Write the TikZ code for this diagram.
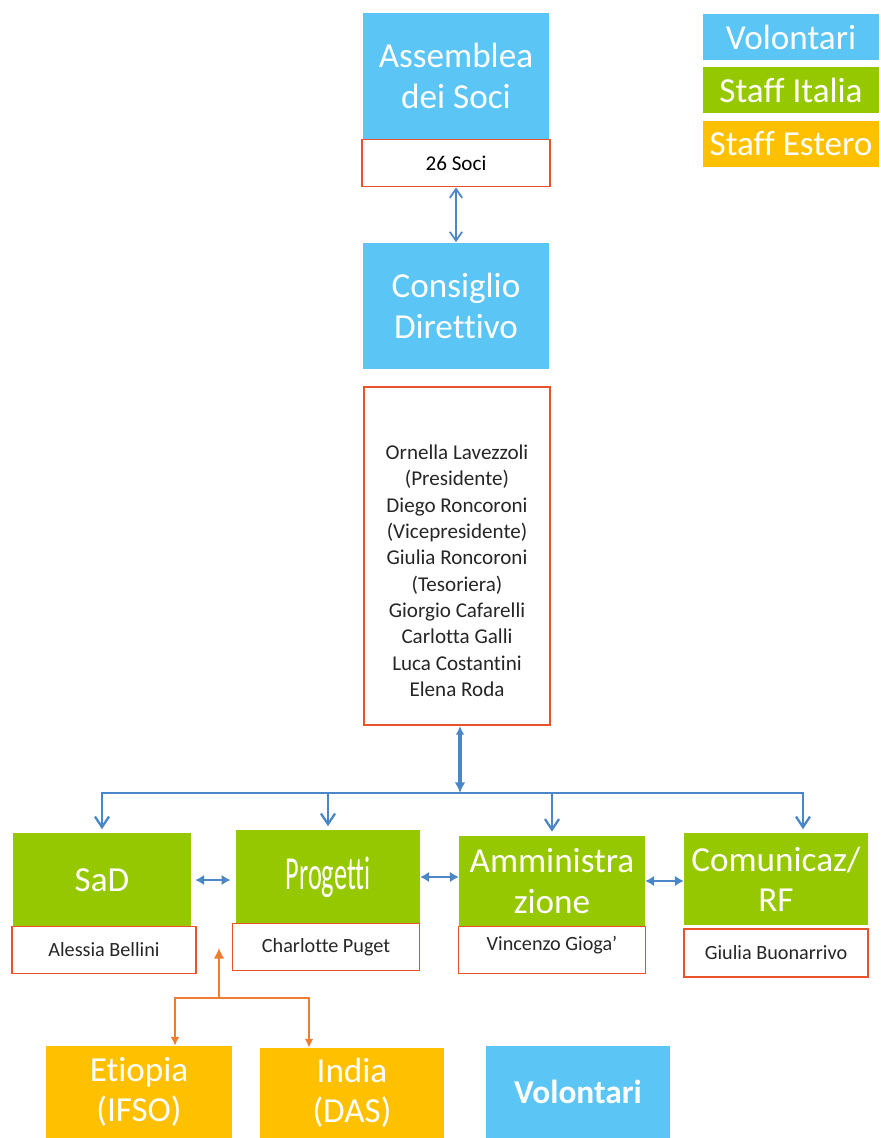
\documentclass[tikz,border=0pt]{standalone}
\usepackage{fontspec}
\setmainfont{Carlito}[Ligatures=NoCommon]
\usepackage{graphicx}
\usepackage{xcolor}
\usepackage{tikz}
\usetikzlibrary{arrows.meta,positioning}

\definecolor{volblu}{RGB}{91,197,245}
\definecolor{itaverde}{RGB}{150,200,0}
\definecolor{estarancio}{RGB}{255,192,0}
\definecolor{bordorosso}{RGB}{234,82,44}
\definecolor{frecciablu}{RGB}{74,134,200}
\definecolor{frecciarancio}{RGB}{237,125,49}

\begin{document}
\begin{tikzpicture}[x=0.02cm,y=-0.02cm,
		volbox/.style={fill=volblu,text=white,inner sep=0pt,align=center,font=\fontsize{20}{23}\selectfont},
		itabox/.style={volbox,fill=itaverde},
		estbox/.style={volbox,fill=estarancio},
		nomebox/.style={draw=bordorosso,line width=1.1pt,fill=white,inner sep=0pt,align=center,text=black!85,font=\fontsize{11.5}{14}\selectfont},
		legenda/.style={volbox,minimum width=3.54cm,minimum height=0.93cm},
		blulink/.style={draw=frecciablu,line width=1.3pt},
		arlink/.style={draw=frecciarancio,line width=1pt}]
		\useasboundingbox (0,0) rectangle (880,1138);
		% legenda
		\node[legenda] (legvol) at (791,37) {Volontari};
		\node[legenda,fill=itaverde] (legita) at (791,90) {Staff Italia};
		\node[legenda,fill=estarancio] (legest) at (791,144) {Staff Estero};
		% assemblea e consiglio
		\node[volbox,minimum width=3.72cm,minimum height=2.54cm] (assemblea) at (456,76) {Assemblea\\dei Soci};
		\node[nomebox,minimum width=3.76cm,minimum height=0.94cm,text=black,font=\fontsize{12}{14}\selectfont] (soci) at (456,163) {26 Soci};
		\node[volbox,minimum width=3.72cm,minimum height=2.54cm] (consiglio) at (456,306) {Consiglio\\Direttivo};
		\node[nomebox,minimum width=3.72cm,minimum height=6.76cm,font=\fontsize{12}{15}\selectfont] (membri) at (457,556)
			{\mbox{}\\[10pt]Ornella Lavezzoli\\(Presidente)\\Diego Roncoroni\\(Vicepresidente)\\Giulia Roncoroni\\(Tesoriera)\\Giorgio Cafarelli\\Carlotta Galli\\Luca  Costantini\\Elena Roda};
		% aree
		\node[itabox,minimum width=3.58cm,minimum height=1.88cm] (sad) at (102,880) {SaD};
		\node[nomebox,minimum width=3.68cm,minimum height=0.94cm] (alessia) at (104,950) {Alessia Bellini};
		\node[itabox,minimum width=3.68cm,minimum height=1.88cm] (progetti) at (328,877) {\scalebox{0.75}[1.35]{Progetti}};
		\node[nomebox,minimum width=3.74cm,minimum height=0.94cm] (charlotte) at (326,947) {Charlotte Puget};
		\node[itabox,minimum width=3.72cm,minimum height=1.82cm] (amministrazione) at (552,881) {Amministra\\zione};
		\node[nomebox,minimum width=3.74cm,minimum height=0.94cm] (vincenzo) at (552,950) {\raisebox{8pt}{Vincenzo Gioga'}};
		\node[itabox,minimum width=3.68cm,minimum height=1.84cm] (comunicaz) at (776,879) {Comunicaz/\\RF};
		\node[nomebox,minimum width=3.68cm,minimum height=0.96cm] (giulia) at (776,953) {Giulia Buonarrivo};
		% staff estero e volontari
		\node[estbox,minimum width=3.72cm,minimum height=1.84cm] (etiopia) at (139,1092) {Etiopia\\(IFSO)};
		\node[estbox,minimum width=3.70cm,minimum height=1.80cm] (india) at (352,1093) {India\\(DAS)};
		\node[volbox,minimum width=3.70cm,minimum height=1.84cm,font=\fontsize{19}{23}\selectfont\bfseries] (volontari) at (578,1092) {Volontari};
		% collegamenti
		\draw[blulink,line width=1pt,{Straight Barb[length=5pt,width=7pt]}-{Straight Barb[length=5pt,width=7pt]}] (soci.south) -- (consiglio.north);
		\coordinate (bus) at (460,793);
		\draw[blulink,line width=1.8pt,{Latex[length=6pt,width=6pt]}-{Latex[length=5pt,width=5pt]}] (bus) -- (bus |- membri.south);
		\draw[blulink,-{Straight Barb[length=6pt,width=8pt]},shorten >=2pt] (bus) -| (sad.north);
		\draw[blulink,-{Straight Barb[length=6pt,width=8pt]},shorten >=2pt] (bus) -| (progetti.north);
		\draw[blulink,-{Straight Barb[length=6pt,width=8pt]},shorten >=2pt] (bus) -| (amministrazione.north);
		\draw[blulink,-{Straight Barb[length=6pt,width=8pt]},shorten >=2pt] (bus) -| ([xshift=0.54cm]comunicaz.north);
		\draw[blulink,line width=1.6pt,{Latex[length=5pt,width=6pt]}-{Latex[length=5pt,width=6pt]},shorten <=2pt,shorten >=3pt] (sad.east) -- (sad.east -| progetti.west);
		\draw[blulink,line width=0.9pt,{Latex[length=5pt,width=6pt]}-{Latex[length=5pt,width=6pt]}] (progetti.east) -- (progetti.east -| amministrazione.west);
		\draw[blulink,line width=0.9pt,{Latex[length=5pt,width=6pt]}-{Latex[length=5pt,width=6pt]}] (amministrazione.east) -- (amministrazione.east -| comunicaz.west);
		\coordinate (estero) at (219,998);
		\coordinate (estpunta) at (219,948);
		\draw[arlink,-{Latex[length=6pt,width=6pt]}] (estero) -- (estpunta);
		\draw[arlink,-{Latex[length=5pt,width=5pt]}] (estero) -| ([xshift=0.72cm]etiopia.north);
		\draw[arlink,-{Latex[length=5pt,width=5pt]}] (estero) -| ([xshift=-0.86cm]india.north);
	\end{tikzpicture}
\end{document}
